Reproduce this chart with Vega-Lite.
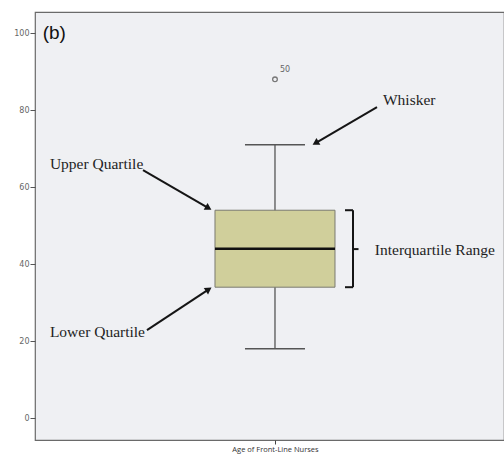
{
  "$schema": "https://vega.github.io/schema/vega-lite/v6.json",
  "width": 469,
  "height": 428,
  "autosize": {"type": "none"},
  "padding": {"left": 35, "top": 12, "right": 0, "bottom": 18},
  "background": "white",
  "config": {
    "view": {"fill": "#eff0f3", "stroke": "#6a6a6a", "strokeWidth": 1.2},
    "axis": {"grid": false}
  },
  "datasets": {
    "box": [{"variable": "Age of Front-Line Nurses", "lower": 18, "q1": 34, "median": 44, "q3": 54, "upper": 71}],
    "outliers": [{"variable": "Age of Front-Line Nurses", "value": 88, "case": "50"}],
    "labels": [
      {"label": "Upper Quartile", "ax": 3.1, "ay": 66},
      {"label": "Lower Quartile", "ax": 3.1, "ay": 22.3},
      {"label": "Whisker", "ax": 72.5, "ay": 82.6},
      {"label": "Interquartile Range", "ax": 70.8, "ay": 43.6}
    ],
    "segments": [
      {"kind": "arrow", "ax": 71.25, "ay": 80.78, "ax2": 58.44, "ay2": 71.43},
      {"kind": "arrow", "ax": 22.5, "ay": 64.4, "ax2": 36.15, "ay2": 54.55},
      {"kind": "arrow", "ax": 23.33, "ay": 22.86, "ax2": 36.19, "ay2": 33.45},
      {"kind": "bracket", "ax": 66.25, "ay": 34, "ax2": 66.25, "ay2": 54},
      {"kind": "bracket", "ax": 64.58, "ay": 54, "ax2": 66.25, "ay2": 54},
      {"kind": "bracket", "ax": 64.58, "ay": 34, "ax2": 66.25, "ay2": 34},
      {"kind": "bracket", "ax": 66.25, "ay": 43.9, "ax2": 67.4, "ay2": 43.9}
    ],
    "heads": [
      {"arrow": "whisker", "ax": 58.44, "ay": 71.43},
      {"arrow": "upper", "ax": 36.15, "ay": 54.55},
      {"arrow": "lower", "ax": 36.19, "ay": 33.45}
    ]
  },
  "layer": [
    {
      "encoding": {
        "x": {"field": "variable", "type": "nominal", "title": null,
              "scale": {"type": "point", "align": 0.5117},
              "axis": {"domain": false, "tickSize": 4, "tickColor": "#444", "labelFontSize": 7.5, "labelColor": "#333", "labelFont": "Open Sans", "labelPadding": 1, "labelAngle": 0}}
      },
      "layer": [
        {
          "data": {"name": "box"},
          "mark": {"type": "rule", "color": "#555555", "strokeWidth": 1.3},
          "encoding": {
            "y": {"field": "lower", "type": "quantitative", "title": null,
                  "scale": {"domain": [-5.7, 105.5], "nice": false, "zero": false},
                  "axis": {"values": [0, 20, 40, 60, 80, 100], "domain": false, "tickSize": 5, "tickColor": "#555", "labelFontSize": 8, "labelColor": "#666", "labelFont": "DejaVu Sans", "labelPadding": 1}},
            "y2": {"field": "upper"}
          }
        },
        {
          "data": {"name": "box"},
          "mark": {"type": "bar", "width": 120, "fill": "#d0cf9b", "stroke": "#7a7a70", "strokeWidth": 1},
          "encoding": {
            "y": {"field": "q1", "type": "quantitative", "title": null, "scale": {"domain": [-5.7, 105.5], "nice": false, "zero": false}},
            "y2": {"field": "q3"}
          }
        },
        {
          "data": {"name": "box"},
          "mark": {"type": "tick", "orient": "horizontal", "size": 120, "thickness": 2.6, "color": "#111111", "opacity": 1},
          "encoding": {
            "y": {"field": "median", "type": "quantitative", "title": null, "scale": {"domain": [-5.7, 105.5], "nice": false, "zero": false}}
          }
        },
        {
          "data": {"name": "box"},
          "mark": {"type": "tick", "orient": "horizontal", "size": 60, "thickness": 1.5, "color": "#555555", "opacity": 1},
          "encoding": {
            "y": {"field": "upper", "type": "quantitative", "title": null, "scale": {"domain": [-5.7, 105.5], "nice": false, "zero": false}}
          }
        },
        {
          "data": {"name": "box"},
          "mark": {"type": "tick", "orient": "horizontal", "size": 60, "thickness": 1.5, "color": "#555555", "opacity": 1},
          "encoding": {
            "y": {"field": "lower", "type": "quantitative", "title": null, "scale": {"domain": [-5.7, 105.5], "nice": false, "zero": false}}
          }
        },
        {
          "data": {"name": "outliers"},
          "mark": {"type": "point", "shape": "circle", "filled": false, "size": 22, "stroke": "#777777", "strokeWidth": 1.3, "opacity": 1},
          "encoding": {
            "y": {"field": "value", "type": "quantitative", "title": null, "scale": {"domain": [-5.7, 105.5], "nice": false, "zero": false}}
          }
        },
        {
          "data": {"name": "outliers"},
          "mark": {"type": "text", "dx": 10, "dy": -9, "fontSize": 8, "font": "DejaVu Sans", "color": "#666666"},
          "encoding": {
            "y": {"field": "value", "type": "quantitative", "title": null, "scale": {"domain": [-5.7, 105.5], "nice": false, "zero": false}},
            "text": {"field": "case"}
          }
        }
      ]
    },
    {
      "encoding": {
        "x": {"field": "ax", "type": "quantitative", "scale": {"domain": [0, 97.71], "nice": false, "zero": false}, "axis": null}
      },
      "layer": [
        {
          "data": {"name": "segments"},
          "mark": {"type": "rule", "color": "#151515", "strokeWidth": 2},
          "encoding": {
            "y": {"field": "ay", "type": "quantitative", "title": null, "scale": {"domain": [-5.7, 105.5], "nice": false, "zero": false}},
            "x2": {"field": "ax2"},
            "y2": {"field": "ay2"}
          }
        },
        {
          "data": {"name": "heads"},
          "transform": [{"filter": "datum.arrow === 'whisker'"}],
          "mark": {"type": "point", "shape": "triangle-up", "filled": true, "size": 60, "color": "#151515", "opacity": 1, "angle": 240},
          "encoding": {
            "y": {"field": "ay", "type": "quantitative", "title": null, "scale": {"domain": [-5.7, 105.5], "nice": false, "zero": false}}
          }
        },
        {
          "data": {"name": "heads"},
          "transform": [{"filter": "datum.arrow === 'upper'"}],
          "mark": {"type": "point", "shape": "triangle-up", "filled": true, "size": 60, "color": "#151515", "opacity": 1, "angle": 120},
          "encoding": {
            "y": {"field": "ay", "type": "quantitative", "title": null, "scale": {"domain": [-5.7, 105.5], "nice": false, "zero": false}}
          }
        },
        {
          "data": {"name": "heads"},
          "transform": [{"filter": "datum.arrow === 'lower'"}],
          "mark": {"type": "point", "shape": "triangle-up", "filled": true, "size": 60, "color": "#151515", "opacity": 1, "angle": 56.5},
          "encoding": {
            "y": {"field": "ay", "type": "quantitative", "title": null, "scale": {"domain": [-5.7, 105.5], "nice": false, "zero": false}}
          }
        },
        {
          "data": {"name": "labels"},
          "mark": {"type": "text", "align": "left", "baseline": "middle", "font": "Liberation Serif", "fontSize": 15.5, "color": "#1e1e1e"},
          "encoding": {
            "y": {"field": "ay", "type": "quantitative", "title": null, "scale": {"domain": [-5.7, 105.5], "nice": false, "zero": false}},
            "text": {"field": "label"}
          }
        },
        {
          "data": {"values": [{"label": "(b)", "ax": 1.6, "ay": 100}]},
          "mark": {"type": "text", "align": "left", "baseline": "middle", "font": "Liberation Sans", "fontSize": 19, "color": "#111111"},
          "encoding": {
            "y": {"field": "ay", "type": "quantitative", "title": null, "scale": {"domain": [-5.7, 105.5], "nice": false, "zero": false}},
            "text": {"field": "label"}
          }
        }
      ]
    }
  ],
  "resolve": {"scale": {"x": "independent"}, "axis": {"x": "independent"}}
}
